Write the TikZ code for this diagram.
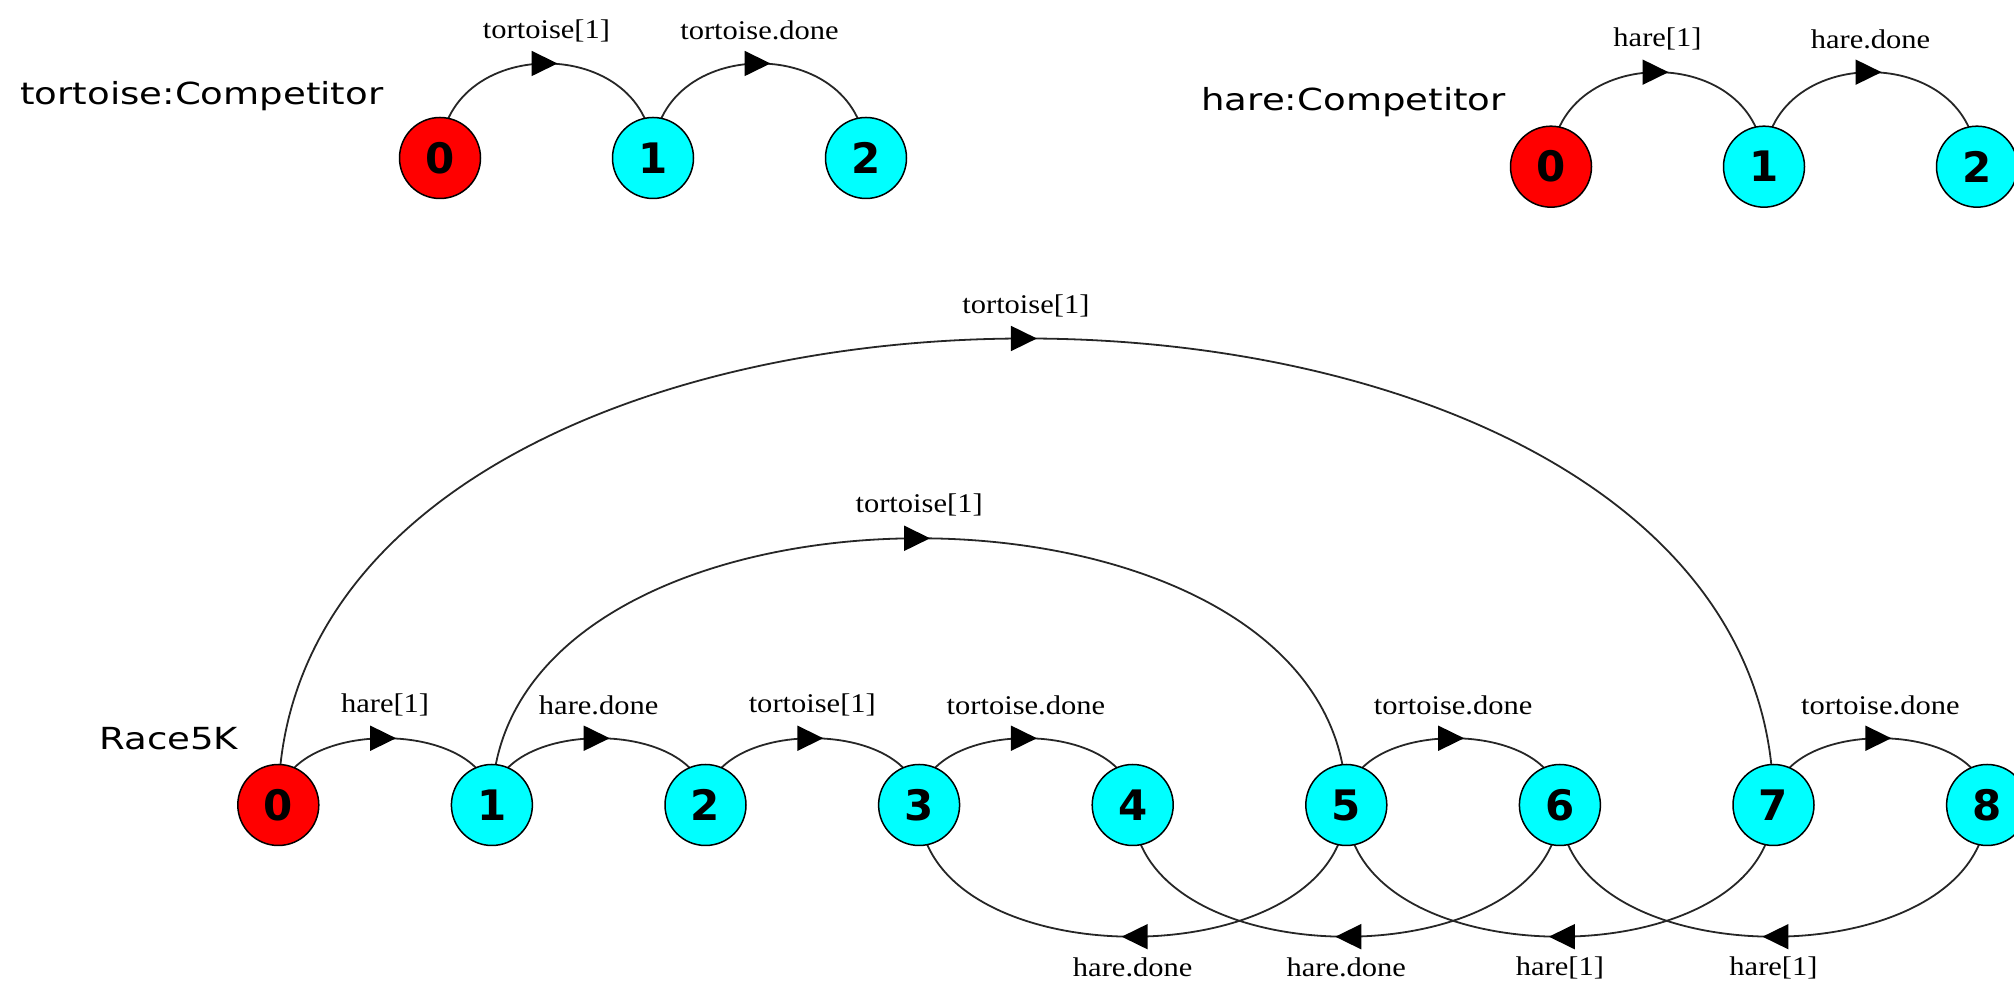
\documentclass[tikz,border=0pt]{standalone}
\usepackage{fontspec}
\usetikzlibrary{arrows.meta,decorations.markings,backgrounds}
\newfontfamily\lblfont[FakeStretch=1.13]{Liberation Serif}
\newfontfamily\ttlfont[FakeStretch=1.22]{DejaVu Sans}
\newfontfamily\numfont{DejaVu Sans}
\definecolor{stred}{RGB}{255,0,0}
\definecolor{stcyan}{RGB}{0,255,255}
\begin{document}
\begin{tikzpicture}[x=0.5pt,y=0.5pt,
  st/.style={circle, draw=black, line width=0.75pt, minimum size=40.5pt, inner sep=0pt,
    font=\numfont\bfseries\fontsize{21pt}{21pt}\selectfont},
  initst/.style={st, fill=stred},
  midst/.style={st, fill=stcyan},
  trans/.style={line width=0.9pt, draw=black!85, postaction={decorate},
    decoration={markings, mark=at position 0.5 with
      {\arrow[xshift=5.5pt,black]{Triangle[length=13pt,width=12.5pt]}}}},
  lbl/.style={font=\lblfont\fontsize{13.5pt}{16pt}\selectfont, inner sep=0pt},
  up/.style={lbl, yshift=16.5pt},
  down/.style={lbl, yshift=-15.5pt},
  ttl/.style={font=\ttlfont\fontsize{15.2pt}{18pt}\selectfont, inner sep=0pt, anchor=base west}]
\useasboundingbox (0,0) rectangle (2014,984);

% process titles
\node[ttl] (ttort) at (20,879) {tortoise:Competitor};
\node[ttl] (thare) at (1201,873) {hare:Competitor};
\node[ttl] (trace) at (99,234) {Race5K};

% tortoise states
\node[initst] (t0) at (440,826) {0};
\node[midst]  (t1) at (653,826) {1};
\node[midst]  (t2) at (866,826) {2};

% hare states
\node[initst] (h0) at (1551,817.3) {0};
\node[midst]  (h1) at (1764,817.3) {1};
\node[midst]  (h2) at (1977,817.3) {2};

% Race5K states
\node[initst] (r0) at (278.3,179) {0};
\node[midst]  (r1) at (491.9,179) {1};
\node[midst]  (r2) at (705.5,179) {2};
\node[midst]  (r3) at (919.1,179) {3};
\node[midst]  (r4) at (1132.7,179) {4};
\node[midst]  (r5) at (1346.3,179) {5};
\node[midst]  (r6) at (1559.9,179) {6};
\node[midst]  (r7) at (1773.5,179) {7};
\node[midst]  (r8) at (1987.1,179) {8};

\begin{scope}[on background layer]
  % tortoise transitions
  \draw[trans] (t0.center) to[out=90,in=90,distance=63pt] node[up]{tortoise[1]} (t1.center);
  \draw[trans] (t1.center) to[out=90,in=90,distance=63pt] node[up]{tortoise.done} (t2.center);
  % hare transitions
  \draw[trans] (h0.center) to[out=90,in=90,distance=63pt] node[up]{hare[1]} (h1.center);
  \draw[trans] (h1.center) to[out=90,in=90,distance=63pt] node[up]{hare.done} (h2.center);
  % Race5K: short arcs above
  \draw[trans] (r0.center) to[out=90,in=90,distance=44.5pt] node[up]{hare[1]} (r1.center);
  \draw[trans] (r1.center) to[out=90,in=90,distance=44.5pt] node[up]{hare.done} (r2.center);
  \draw[trans] (r2.center) to[out=90,in=90,distance=44.5pt] node[up]{tortoise[1]} (r3.center);
  \draw[trans] (r3.center) to[out=90,in=90,distance=44.5pt] node[up]{tortoise.done} (r4.center);
  \draw[trans] (r5.center) to[out=90,in=90,distance=44.5pt] node[up]{tortoise.done} (r6.center);
  \draw[trans] (r7.center) to[out=90,in=90,distance=44.5pt] node[up]{tortoise.done} (r8.center);
  % Race5K: long arcs above
  \draw[trans] (r0.center) to[out=90,in=90,distance=311pt] node[up]{tortoise[1]} (r7.center);
  \draw[trans] (r1.center) to[out=90,in=90,distance=177.8pt] node[up]{tortoise[1]} (r5.center);
  % Race5K: arcs below, running backwards
  \draw[trans] (r5.center) to[out=-90,in=-90,distance=87.8pt] node[down]{hare.done} (r3.center);
  \draw[trans] (r6.center) to[out=-90,in=-90,distance=87.8pt] node[down]{hare.done} (r4.center);
  \draw[trans] (r7.center) to[out=-90,in=-90,distance=87.8pt] node[down]{hare[1]} (r5.center);
  \draw[trans] (r8.center) to[out=-90,in=-90,distance=87.8pt] node[down]{hare[1]} (r6.center);
\end{scope}
\end{tikzpicture}
\end{document}
